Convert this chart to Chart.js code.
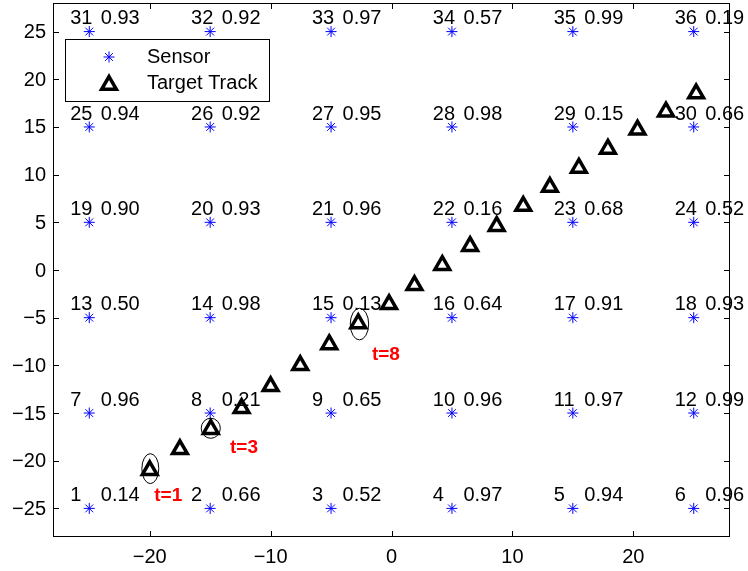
<!DOCTYPE html>
<html>
<head>
<meta charset="utf-8">
<script src="https://cdn.jsdelivr.net/npm/chart.js@4"></script>
<style>
  html, body { margin: 0; padding: 0; background: #fff; }
  #wrap { width: 748px; height: 571px; }
</style>
</head>
<body>
<div id="wrap"><canvas id="chart"></canvas></div>
<script>
// Sensor field + target track

// sensors, numbered from bottom-left, row by row
const sensorIds = [1, 2, 3, 4, 5, 6, 7, 8, 9, 10, 11, 12, 13, 14, 15, 16, 17, 18,
    19, 20, 21, 22, 23, 24, 25, 26, 27, 28, 29, 30, 31, 32, 33, 34, 35, 36];
const sensorX = [-25, -15, -5, 5, 15, 25, -25, -15, -5, 5, 15, 25, -25, -15, -5, 5, 15, 25,
    -25, -15, -5, 5, 15, 25, -25, -15, -5, 5, 15, 25, -25, -15, -5, 5, 15, 25];
const sensorY = [-25, -25, -25, -25, -25, -25, -15, -15, -15, -15, -15, -15, -5, -5, -5, -5, -5, -5,
    5, 5, 5, 5, 5, 5, 15, 15, 15, 15, 15, 15, 25, 25, 25, 25, 25, 25];
const sensorProb = [0.14, 0.66, 0.52, 0.97, 0.94, 0.96,
    0.96, 0.21, 0.65, 0.96, 0.97, 0.99,
    0.50, 0.98, 0.13, 0.64, 0.91, 0.93,
    0.90, 0.93, 0.96, 0.16, 0.68, 0.52,
    0.94, 0.92, 0.95, 0.98, 0.15, 0.66,
    0.93, 0.92, 0.97, 0.57, 0.99, 0.19];

// target track
const trackX = [-20.0, -17.5, -14.95, -12.4, -10.0, -7.55, -5.15, -2.75, -0.2, 1.9,
    4.2, 6.5, 8.7, 10.9, 13.1, 15.5, 17.9, 20.35, 22.7, 25.2];
const trackY = [-21.0, -18.8, -16.7, -14.5, -12.2, -10.0, -7.8, -5.6, -3.6, -1.6,
    0.5, 2.5, 4.6, 6.7, 8.7, 10.7, 12.7, 14.7, 16.6, 18.5];

// highlighted time steps (ellipse centre / half axes, label position), data units
const markLabels = ['t=1', 't=3', 't=8'];
const markX = [-19.95, -14.95, -2.65];
const markY = [-20.83, -16.6, -5.67];
const markRx = [0.7, 0.79, 0.76];
const markRy = [1.57, 1.05, 1.66];
const markTextX = [-18.47, -12.2, -0.46];
const markTextY = [-23.64, -18.62, -8.87];

const xTicks = [-20, -10, 0, 10, 20];
const yTicks = [-25, -20, -15, -10, -5, 0, 5, 10, 15, 20, 25];

const FONT = "'Liberation Sans', Arial, Helvetica, sans-serif";
Chart.defaults.font.family = FONT;
Chart.defaults.color = '#000';

const fmtTick = v => (v < 0 ? '\u2212' + Math.abs(v) : String(v));

const sensorStyle = { pointStyle: 'star', radius: 5.5, borderWidth: 1, color: '#0000ff' };
const trackStyle = { pointStyle: 'triangle', radius: 8.5, borderWidth: 3.5, color: '#000' };

const overlay = {
    id: 'overlay',
    afterDatasetsDraw(chart) {
        const { ctx, scales: { x, y } } = chart;
        ctx.save();

        // ellipses round the highlighted steps
        ctx.strokeStyle = '#000';
        ctx.lineWidth = 1;
        markX.forEach((mx, i) => {
            const cx = x.getPixelForValue(mx);
            const cy = y.getPixelForValue(markY[i]);
            const rx = Math.abs(x.getPixelForValue(mx + markRx[i]) - cx);
            const ry = Math.abs(y.getPixelForValue(markY[i] + markRy[i]) - cy);
            ctx.beginPath();
            ctx.ellipse(cx, cy, rx, ry, 0, 0, Math.PI * 2);
            ctx.stroke();
        });

        // sensor id + probability
        ctx.font = '20px ' + FONT;
        ctx.fillStyle = '#000';
        ctx.textBaseline = 'middle';
        ctx.textAlign = 'left';
        sensorX.forEach((sx, i) => {
            const ty = y.getPixelForValue(sensorY[i] + 1.35);
            ctx.fillText(String(sensorIds[i]), x.getPixelForValue(sx - 1.58), ty);
            ctx.fillText(sensorProb[i].toFixed(2), x.getPixelForValue(sx + 0.95), ty);
        });

        // red time labels
        ctx.font = 'bold 19px ' + FONT;
        ctx.fillStyle = '#ff0000';
        ctx.textAlign = 'center';
        markLabels.forEach((lbl, i) => {
            ctx.fillText(lbl, x.getPixelForValue(markTextX[i]), y.getPixelForValue(markTextY[i]));
        });
        ctx.restore();
    },
    afterDraw(chart) {
        const { ctx, chartArea: a, scales: { x, y } } = chart;
        ctx.save();

        // y tick labels
        ctx.font = '20px ' + FONT;
        ctx.fillStyle = '#000';
        ctx.textAlign = 'right';
        ctx.textBaseline = 'middle';
        yTicks.forEach(v => {
            ctx.fillText(fmtTick(v), a.left - 7, y.getPixelForValue(v) + 1);
        });

        // box and inward ticks on all sides
        ctx.strokeStyle = '#000';
        ctx.lineWidth = 1;
        ctx.strokeRect(a.left + 0.5, a.top + 0.5, a.right - a.left - 1, a.bottom - a.top - 1);
        const tl = 6;
        ctx.beginPath();
        xTicks.forEach(v => {
            const px = Math.round(x.getPixelForValue(v)) + 0.5;
            ctx.moveTo(px, a.bottom); ctx.lineTo(px, a.bottom - tl);
            ctx.moveTo(px, a.top); ctx.lineTo(px, a.top + tl);
        });
        yTicks.forEach(v => {
            const py = Math.round(y.getPixelForValue(v)) + 0.5;
            ctx.moveTo(a.left, py); ctx.lineTo(a.left + tl, py);
            ctx.moveTo(a.right, py); ctx.lineTo(a.right - tl, py);
        });
        ctx.stroke();

        // legend box, top left inside the axes
        const lx = a.left + 12, ly = a.top + 36, lw = 204, lh = 62;
        ctx.fillStyle = '#fff';
        ctx.fillRect(lx, ly, lw, lh);
        ctx.strokeRect(lx + 0.5, ly + 0.5, lw, lh);

        const entries = [
            { text: 'Sensor', style: sensorStyle, dy: 18 },
            { text: 'Target Track', style: trackStyle, dy: 44 }
        ];
        entries.forEach(e => {
            ctx.strokeStyle = e.style.color;
            ctx.fillStyle = 'rgba(0,0,0,0)';
            ctx.lineWidth = e.style.borderWidth;
            Chart.helpers.drawPoint(ctx, {
                pointStyle: e.style.pointStyle,
                radius: e.style.radius,
                rotation: 0,
                borderWidth: e.style.borderWidth
            }, lx + 44, ly + e.dy + (e.style.pointStyle === 'triangle' ? 2 : 0));
            ctx.fillStyle = '#000';
            ctx.font = '20px ' + FONT;
            ctx.textAlign = 'left';
            ctx.textBaseline = 'middle';
            ctx.fillText(e.text, lx + 82, ly + e.dy);
        });
        ctx.restore();
    }
};

new Chart(document.getElementById('chart'), {
    type: 'scatter',
    data: {
        datasets: [
            {
                label: 'Sensor',
                data: sensorX.map((v, i) => ({ x: v, y: sensorY[i] })),
                pointStyle: sensorStyle.pointStyle,
                pointRadius: sensorStyle.radius,
                pointBorderWidth: sensorStyle.borderWidth,
                borderColor: sensorStyle.color,
                backgroundColor: 'rgba(0,0,0,0)'
            },
            {
                label: 'Target Track',
                data: trackX.map((v, i) => ({ x: v, y: trackY[i] })),
                pointStyle: trackStyle.pointStyle,
                pointRadius: trackStyle.radius,
                pointBorderWidth: trackStyle.borderWidth,
                borderColor: trackStyle.color,
                backgroundColor: 'rgba(0,0,0,0)'
            }
        ]
    },
    options: {
        responsive: true,
        maintainAspectRatio: false,
        animation: false,
        layout: { autoPadding: false, padding: { top: 3, right: 18, left: 0, bottom: 0 } },
        plugins: {
            legend: { display: false },
            tooltip: { enabled: false }
        },
        scales: {
            x: {
                type: 'linear',
                min: -28,
                max: 28,
                afterBuildTicks: s => { s.ticks = xTicks.map(v => ({ value: v })); },
                afterFit: s => { s.height = 34; s.paddingLeft = 0; s.paddingRight = 0; },
                grid: { display: false, drawTicks: false },
                border: { display: false },
                ticks: {
                    padding: 8,
                    font: { size: 20 },
                    color: '#000',
                    maxRotation: 0,
                    callback: fmtTick
                }
            },
            y: {
                type: 'linear',
                min: -28,
                max: 28,
                afterBuildTicks: s => { s.ticks = yTicks.map(v => ({ value: v })); },
                afterFit: s => { s.width = 53; s.paddingTop = 0; s.paddingBottom = 0; },
                grid: { display: false, drawTicks: false },
                border: { display: false },
                ticks: { display: false }
            }
        }
    },
    plugins: [overlay]
});
</script>
</body>
</html>
